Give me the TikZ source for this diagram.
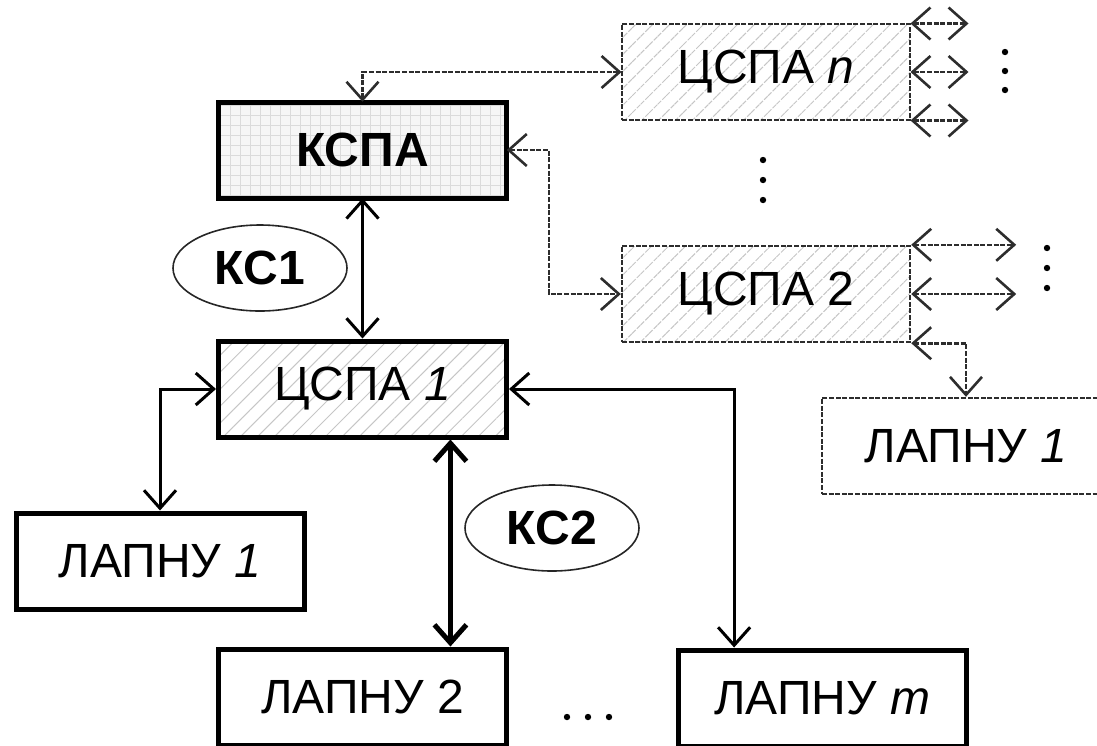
\documentclass[tikz,border=0pt]{standalone}
\usepackage{fontspec}
\setmainfont{Liberation Sans}
\usetikzlibrary{arrows.meta,patterns.meta,calc,shapes.geometric}

\begin{document}
\begin{tikzpicture}[x=0.5pt,y=-0.5pt,
  font=\fontsize{24}{28}\selectfont,
  >={Straight Barb[length=9pt,width=16pt]},
  box/.style={rectangle, minimum width=144pt, minimum height=48pt, inner sep=0pt},
  solidbox/.style={box, draw, line width=2.5pt},
  dashbox/.style={box, draw=gray!35!black, dash pattern=on 2.5pt off 0.8pt, line width=1.2pt},
  hatched/.style={pattern={Lines[angle=45,distance=6pt,line width=0.5pt]}, pattern color=gray!45},
  gridded/.style={preaction={fill=gray!7}, pattern={Hatch[distance=5pt,line width=0.3pt]}, pattern color=gray!28},
  channel/.style={ellipse, draw=gray!30!black, line width=0.8pt, minimum width=87pt, minimum height=43pt, inner sep=0pt, font=\fontsize{24}{28}\selectfont\bfseries},
  link/.style={line width=1.5pt},
  biglink/.style={line width=2.5pt},
  glink/.style={draw=gray!35!black, dash pattern=on 2.5pt off 0.8pt, line width=1.3pt}]
  \useasboundingbox (0,0) rectangle (1097,745);

  % centres
  \node[solidbox, gridded] (kspa) at (362.5,150) {\textbf{КСПА}};
  \node[dashbox, hatched] (cspan) at (766,72) {ЦСПА \textit{n}};
  \node[dashbox, hatched] (cspa2) at (766,294) {ЦСПА 2};
  \node[solidbox, hatched] (cspa1) at (362.5,389) {ЦСПА \textit{1}};
  \node[dashbox] (lapr) at (966,446) {ЛАПНУ \textit{1}};
  \node[solidbox] (lap1) at (160,561) {ЛАПНУ \textit{1}};
  \node[solidbox] (lap2) at (362.5,697) {ЛАПНУ 2};
  \node[solidbox] (lapm) at (822,698) {ЛАПНУ \textit{m}};
  \node[channel] (ks1) at (260,268) {КС1};
  \node[channel] (ks2) at (552,528) {КС2};

  % dashed links of the upper level
  \draw[glink,<->] (kspa.north) |- (cspan.west);
  \draw[glink,<->] (kspa.east) -- ++(42,0) |- (cspa2.west);
  \foreach \a in {north east, east, south east}
    \draw[glink,<->] (cspan.\a) -- ++(58,0);
  \foreach \a in {north east, east}
    \draw[glink,<->] (cspa2.\a) -- ++(105,0);
  \draw[glink,<->] (cspa2.south east) -| (lapr.north);

  % solid links
  \draw[link,<->] (kspa.south) -- (cspa1.north);
  \draw[link,<->] (cspa1.west) -| (lap1.north);
  \draw[link,<->] (cspa1.east) -| ($(lapm.north west)!0.2!(lapm.north east)$);
  \coordinate (k2) at ($(cspa1.south west)!0.8!(cspa1.south east)$);
  \draw[biglink,<->] (k2) -- (k2 |- lap2.north);

  % dots
  \foreach \y in {52,71,90} \fill (1005,\y) circle (1.6pt);
  \foreach \y in {160,180,200} \fill (763,\y) circle (1.6pt);
  \foreach \y in {248,268,288} \fill (1047,\y) circle (1.6pt);
  \foreach \x in {567,588,609} \fill (\x,717) circle (1.6pt);
\end{tikzpicture}
\end{document}
